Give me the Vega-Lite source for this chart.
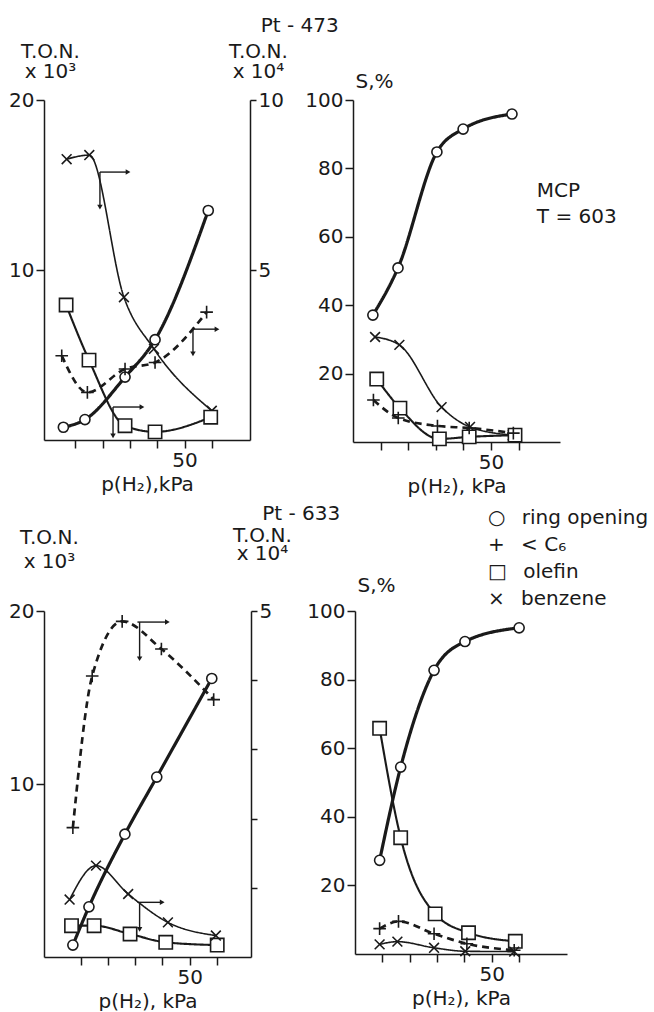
{
  "$schema": "https://vega.github.io/schema/vega-lite/v6.json",
  "background": "white",
  "padding": {"left": 8, "top": 16, "right": 0, "bottom": 0},
  "bounds": "flush",
  "spacing": 511,
  "resolve": {"legend": {"shape": "independent"}},
  "datasets": {
    "pts": [
      {"panel":"TL","axis":"L","series":"ring opening","p":5.6,"v":0.75},
      {"panel":"TL","axis":"L","series":"ring opening","p":13.5,"v":1.2},
      {"panel":"TL","axis":"L","series":"ring opening","p":28.2,"v":3.7},
      {"panel":"TL","axis":"L","series":"ring opening","p":39.2,"v":5.9},
      {"panel":"TL","axis":"L","series":"ring opening","p":58.7,"v":13.5},
      {"panel":"TL","axis":"R","series":"benzene","p":6.8,"v":8.26},
      {"panel":"TL","axis":"R","series":"benzene","p":15.1,"v":8.38},
      {"panel":"TL","axis":"R","series":"benzene","p":27.8,"v":4.2},
      {"panel":"TL","axis":"R","series":"benzene","p":38.8,"v":2.68},
      {"panel":"TL","axis":"R","series":"benzene","p":60.0,"v":0.86},
      {"panel":"TL","axis":"R","series":"olefin","p":6.6,"v":3.97},
      {"panel":"TL","axis":"R","series":"olefin","p":15.0,"v":2.35},
      {"panel":"TL","axis":"R","series":"olefin","p":28.2,"v":0.42},
      {"panel":"TL","axis":"R","series":"olefin","p":39.2,"v":0.24},
      {"panel":"TL","axis":"R","series":"olefin","p":59.6,"v":0.67},
      {"panel":"TL","axis":"R","series":"< C₆","p":5.0,"v":2.48},
      {"panel":"TL","axis":"R","series":"< C₆","p":14.4,"v":1.4},
      {"panel":"TL","axis":"R","series":"< C₆","p":28.2,"v":2.09},
      {"panel":"TL","axis":"R","series":"< C₆","p":39.2,"v":2.28},
      {"panel":"TL","axis":"R","series":"< C₆","p":58.1,"v":3.76},

      {"panel":"TR","axis":"L","series":"ring opening","p":7.2,"v":37.1},
      {"panel":"TR","axis":"L","series":"ring opening","p":16.3,"v":50.9},
      {"panel":"TR","axis":"L","series":"ring opening","p":30.4,"v":84.8},
      {"panel":"TR","axis":"L","series":"ring opening","p":39.9,"v":91.5},
      {"panel":"TR","axis":"L","series":"ring opening","p":57.6,"v":95.9},
      {"panel":"TR","axis":"L","series":"benzene","p":8.0,"v":30.7},
      {"panel":"TR","axis":"L","series":"benzene","p":16.8,"v":28.4},
      {"panel":"TR","axis":"L","series":"benzene","p":32.1,"v":10.2},
      {"panel":"TR","axis":"L","series":"benzene","p":42.4,"v":4.4},
      {"panel":"TR","axis":"L","series":"benzene","p":57.9,"v":2.0},
      {"panel":"TR","axis":"L","series":"olefin","p":8.6,"v":18.4},
      {"panel":"TR","axis":"L","series":"olefin","p":17.0,"v":9.9},
      {"panel":"TR","axis":"L","series":"olefin","p":31.3,"v":0.9},
      {"panel":"TR","axis":"L","series":"olefin","p":42.1,"v":1.5},
      {"panel":"TR","axis":"L","series":"olefin","p":58.7,"v":2.0},
      {"panel":"TR","axis":"L","series":"< C₆","p":7.4,"v":12.3},
      {"panel":"TR","axis":"L","series":"< C₆","p":16.4,"v":7.0},
      {"panel":"TR","axis":"L","series":"< C₆","p":30.6,"v":4.7},
      {"panel":"TR","axis":"L","series":"< C₆","p":42.1,"v":4.1},
      {"panel":"TR","axis":"L","series":"< C₆","p":58.1,"v":2.6},

      {"panel":"BL","axis":"L","series":"ring opening","p":7.1,"v":0.69},
      {"panel":"BL","axis":"L","series":"ring opening","p":13.0,"v":2.9},
      {"panel":"BL","axis":"L","series":"ring opening","p":26.2,"v":7.1},
      {"panel":"BL","axis":"L","series":"ring opening","p":37.9,"v":10.4},
      {"panel":"BL","axis":"L","series":"ring opening","p":58.1,"v":16.1},
      {"panel":"BL","axis":"L","series":"olefin","p":6.6,"v":1.81},
      {"panel":"BL","axis":"L","series":"olefin","p":14.9,"v":1.81},
      {"panel":"BL","axis":"L","series":"olefin","p":28.1,"v":1.33},
      {"panel":"BL","axis":"L","series":"olefin","p":41.2,"v":0.85},
      {"panel":"BL","axis":"L","series":"olefin","p":60.1,"v":0.69},
      {"panel":"BL","axis":"R","series":"< C₆","p":7.1,"v":1.87},
      {"panel":"BL","axis":"R","series":"< C₆","p":14.2,"v":4.06},
      {"panel":"BL","axis":"R","series":"< C₆","p":25.2,"v":4.85},
      {"panel":"BL","axis":"R","series":"< C₆","p":39.6,"v":4.45},
      {"panel":"BL","axis":"R","series":"< C₆","p":58.8,"v":3.72},
      {"panel":"BL","axis":"R","series":"benzene","p":5.9,"v":0.83},
      {"panel":"BL","axis":"R","series":"benzene","p":15.6,"v":1.32},
      {"panel":"BL","axis":"R","series":"benzene","p":27.4,"v":0.91},
      {"panel":"BL","axis":"R","series":"benzene","p":42.0,"v":0.5},
      {"panel":"BL","axis":"R","series":"benzene","p":59.6,"v":0.31},

      {"panel":"BR","axis":"L","series":"ring opening","p":9.0,"v":27.3},
      {"panel":"BR","axis":"L","series":"ring opening","p":16.7,"v":54.5},
      {"panel":"BR","axis":"L","series":"ring opening","p":28.9,"v":82.7},
      {"panel":"BR","axis":"L","series":"ring opening","p":40.2,"v":91.1},
      {"panel":"BR","axis":"L","series":"ring opening","p":60.0,"v":95.1},
      {"panel":"BR","axis":"L","series":"olefin","p":9.0,"v":65.8},
      {"panel":"BR","axis":"L","series":"olefin","p":16.7,"v":33.9},
      {"panel":"BR","axis":"L","series":"olefin","p":29.3,"v":11.7},
      {"panel":"BR","axis":"L","series":"olefin","p":41.5,"v":6.2},
      {"panel":"BR","axis":"L","series":"olefin","p":58.6,"v":3.7},
      {"panel":"BR","axis":"L","series":"< C₆","p":9.0,"v":7.4},
      {"panel":"BR","axis":"L","series":"< C₆","p":15.9,"v":9.5},
      {"panel":"BR","axis":"L","series":"< C₆","p":28.9,"v":5.9},
      {"panel":"BR","axis":"L","series":"< C₆","p":40.9,"v":3.0},
      {"panel":"BR","axis":"L","series":"< C₆","p":58.2,"v":1.1},
      {"panel":"BR","axis":"L","series":"benzene","p":9.0,"v":2.8},
      {"panel":"BR","axis":"L","series":"benzene","p":15.5,"v":3.6},
      {"panel":"BR","axis":"L","series":"benzene","p":28.9,"v":1.8},
      {"panel":"BR","axis":"L","series":"benzene","p":40.3,"v":0.8},
      {"panel":"BR","axis":"L","series":"benzene","p":58.2,"v":0.7}
    ],
    "arrows": [
      {"panel":"TL","p":19.0,"v":7.88,"p2":29.3,"v2":7.88},
      {"panel":"TL","p":19.0,"v":7.88,"p2":19.0,"v2":6.85},
      {"panel":"TL","p":23.8,"v":0.97,"p2":34.4,"v2":0.97},
      {"panel":"TL","p":23.8,"v":0.97,"p2":23.8,"v2":0.12},
      {"panel":"TL","p":53.1,"v":3.26,"p2":61.9,"v2":3.26},
      {"panel":"TL","p":53.1,"v":3.3,"p2":53.1,"v2":2.53},
      {"panel":"BL","p":30.8,"v":4.84,"p2":41.8,"v2":4.84},
      {"panel":"BL","p":31.6,"v":4.84,"p2":31.6,"v2":4.31},
      {"panel":"BL","p":30.8,"v":0.79,"p2":39.9,"v2":0.79},
      {"panel":"BL","p":31.6,"v":0.79,"p2":31.6,"v2":0.4}
    ],
    "heads": [
      {"panel":"TL","dir":"right","p":29.3,"v":7.88},
      {"panel":"TL","dir":"down","p":19.0,"v":6.85},
      {"panel":"TL","dir":"right","p":34.4,"v":0.97},
      {"panel":"TL","dir":"down","p":23.8,"v":0.12},
      {"panel":"TL","dir":"right","p":61.9,"v":3.26},
      {"panel":"TL","dir":"down","p":53.1,"v":2.53},
      {"panel":"BL","dir":"right","p":41.8,"v":4.84},
      {"panel":"BL","dir":"down","p":31.6,"v":4.31},
      {"panel":"BL","dir":"right","p":39.9,"v":0.79},
      {"panel":"BL","dir":"down","p":31.6,"v":0.4}
    ]
  },
  "vconcat": [
    {
      "title": {"text": "Pt - 473", "anchor": "middle", "baseline": "alphabetic", "offset": -11, "dx": -13},
      "bounds": "flush",
      "spacing": 103,
      "hconcat": [
        {
          "width": 206, "height": 340,
          "encoding": {"x": {"field":"p","type":"quantitative","scale":{"domain":[-1.5,74],"nice":false,"zero":false},
            "axis":{"values":[10,20,30,40,50,60],"labelExpr":"datum.value == 50 ? '50' : ''","title":"p(H₂),kPa","tickSize":8,"labelPadding":2,"titlePadding":4}}},
          "layer": [
            {
              "encoding": {"y": {"field":"v","type":"quantitative","scale":{"domain":[0,20],"nice":false},
                "axis":{"orient":"left","values":[10,20],"title":["T.O.N.","x 10³"],"titleAngle":0,"titleAlign":"center","titleBaseline":"alphabetic","titleX":6,"titleY":-43,"titleLineHeight":20,"tickSize":8,"labelPadding":2}}},
              "layer": [
                {"data":{"name":"pts"},"transform":[{"filter":"datum.panel=='TL' && datum.axis=='L'"}],
                 "mark":{"type":"line","interpolate":"monotone","color":"#1a1a1a"},
                 "encoding":{"detail":{"field":"series"},
                   "strokeDash":{"field":"series","type":"nominal","scale":{"domain":["ring opening","< C₆","olefin","benzene"],"range":[[1,0],[7,5],[1,0],[1,0]]},"legend":null},
                   "strokeWidth":{"field":"series","type":"nominal","scale":{"domain":["ring opening","< C₆","olefin","benzene"],"range":[3.2,1.6,1.6,1.6]},"legend":null}}},
                {"data":{"name":"pts"},"transform":[{"filter":"datum.panel=='TL' && datum.axis=='L'"}],
                 "mark":{"type":"point","filled":false,"color":"#1a1a1a","fill":"white","strokeWidth":1.6,"opacity":1,"size":196},
                 "encoding":{
                   "shape":{"field":"series","type":"nominal","scale":{"domain":["ring opening","< C₆","olefin","benzene"],"range":["M0.72,0A0.72,0.72,0,1,1,-0.72,0A0.72,0.72,0,1,1,0.72,0Z","M-0.9,0L0.9,0M0,-0.9L0,0.9","M-0.95,-0.95L0.95,-0.95L0.95,0.95L-0.95,0.95Z","M-0.7,-0.7L0.7,0.7M0.7,-0.7L-0.7,0.7"]},"legend":null}}}
              ]
            },
            {
              "encoding": {"y": {"field":"v","type":"quantitative","scale":{"domain":[0,10],"nice":false},
                "axis":{"orient":"right","values":[5,10],"title":["T.O.N.","x 10⁴"],"titleAngle":0,"titleAlign":"center","titleBaseline":"alphabetic","titleX":8,"titleY":-43,"titleLineHeight":20,"tickSize":6,"labelPadding":2}}},
              "layer": [
                {"data":{"name":"pts"},"transform":[{"filter":"datum.panel=='TL' && datum.axis=='R'"}],
                 "mark":{"type":"line","interpolate":"monotone","color":"#1a1a1a"},
                 "encoding":{"detail":{"field":"series"},
                   "strokeDash":{"field":"series","type":"nominal","scale":{"domain":["ring opening","< C₆","olefin","benzene"],"range":[[1,0],[7,5],[1,0],[1,0]]},"legend":null},
                   "strokeWidth":{"field":"series","type":"nominal","scale":{"domain":["ring opening","< C₆","olefin","benzene"],"range":[3.2,1.6,1.6,1.6]},"legend":null}}},
                {"data":{"name":"pts"},"transform":[{"filter":"datum.panel=='TL' && datum.axis=='R'"}],
                 "mark":{"type":"point","filled":false,"color":"#1a1a1a","fill":"white","strokeWidth":1.6,"opacity":1,"size":196},
                 "encoding":{
                   "shape":{"field":"series","type":"nominal","scale":{"domain":["ring opening","< C₆","olefin","benzene"],"range":["M0.72,0A0.72,0.72,0,1,1,-0.72,0A0.72,0.72,0,1,1,0.72,0Z","M-0.9,0L0.9,0M0,-0.9L0,0.9","M-0.95,-0.95L0.95,-0.95L0.95,0.95L-0.95,0.95Z","M-0.7,-0.7L0.7,0.7M0.7,-0.7L-0.7,0.7"]},"legend":null}}},
                {"data":{"name":"arrows"},"transform":[{"filter":"datum.panel=='TL'"}],
                 "mark":{"type":"rule","color":"#1a1a1a","strokeWidth":1.4},
                 "encoding":{"x2":{"field":"p2"},"y2":{"field":"v2"}}},
                {"data":{"name":"heads"},"transform":[{"filter":"datum.panel=='TL' && datum.dir=='right'"}],
                 "mark":{"type":"point","shape":"triangle-right","filled":true,"color":"#1a1a1a","size":30,"opacity":1},
                 "encoding":{}},
                {"data":{"name":"heads"},"transform":[{"filter":"datum.panel=='TL' && datum.dir=='down'"}],
                 "mark":{"type":"point","shape":"triangle-down","filled":true,"color":"#1a1a1a","size":30,"opacity":1},
                 "encoding":{}}
              ]
            }
          ],
          "resolve": {"scale": {"y": "independent"}}
        },
        {
          "width": 207, "height": 342,
          "title": {"text": ["MCP", "T = 603"], "orient": "right", "anchor": "start", "frame": "group", "angle": 0, "align": "left", "baseline": "alphabetic", "offset": -103, "dy": 97, "lineHeight": 26},
          "encoding": {
            "x": {"field":"p","type":"quantitative","scale":{"domain":[0,75],"nice":false,"zero":false},
              "axis":{"values":[10,20,30,40,50,60],"labelExpr":"datum.value == 50 ? '50' : ''","title":"p(H₂), kPa","tickSize":8,"labelPadding":2,"titlePadding":4}},
            "y": {"field":"v","type":"quantitative","scale":{"domain":[0,100],"nice":false},
              "axis":{"orient":"left","values":[20,40,60,80,100],"title":"S,%","titleAngle":0,"titleAlign":"left","titleBaseline":"alphabetic","titleX":2,"titleY":-13,"tickSize":8,"labelPadding":2}}
          },
          "layer": [
            {"data":{"name":"pts"},"transform":[{"filter":"datum.panel=='TR'"}],
             "mark":{"type":"line","interpolate":"monotone","color":"#1a1a1a"},
             "encoding":{"detail":{"field":"series"},
               "strokeDash":{"field":"series","type":"nominal","scale":{"domain":["ring opening","< C₆","olefin","benzene"],"range":[[1,0],[7,5],[1,0],[1,0]]},"legend":null},
               "strokeWidth":{"field":"series","type":"nominal","scale":{"domain":["ring opening","< C₆","olefin","benzene"],"range":[3.2,1.6,1.6,1.6]},"legend":null}}},
            {"data":{"name":"pts"},"transform":[{"filter":"datum.panel=='TR'"}],
             "mark":{"type":"point","filled":false,"color":"#1a1a1a","fill":"white","strokeWidth":1.6,"opacity":1,"size":196},
             "encoding":{
               "shape":{"field":"series","type":"nominal","scale":{"domain":["ring opening","< C₆","olefin","benzene"],"range":["M0.72,0A0.72,0.72,0,1,1,-0.72,0A0.72,0.72,0,1,1,0.72,0Z","M-0.9,0L0.9,0M0,-0.9L0,0.9","M-0.95,-0.95L0.95,-0.95L0.95,0.95L-0.95,0.95Z","M-0.7,-0.7L0.7,0.7M0.7,-0.7L-0.7,0.7"]},"legend":null}}}
          ]
        }
      ]
    },
    {
      "title": {"text": "Pt - 633", "anchor": "middle", "baseline": "alphabetic", "offset": -32, "dx": -38},
      "bounds": "flush",
      "spacing": 104,
      "resolve": {"legend": {"shape": "independent"}},
      "hconcat": [
        {
          "width": 207, "height": 346,
          "encoding": {"x": {"field":"p","type":"quantitative","scale":{"domain":[-3.5,72.5],"nice":false,"zero":false},
            "axis":{"values":[10,20,30,40,50,60],"labelExpr":"datum.value == 50 ? '50' : ''","title":"p(H₂), kPa","tickSize":8,"labelPadding":2,"titlePadding":4}}},
          "layer": [
            {
              "encoding": {"y": {"field":"v","type":"quantitative","scale":{"domain":[0,20],"nice":false},
                "axis":{"orient":"left","values":[10,20],"title":["T.O.N.","x 10³"],"titleAngle":0,"titleAlign":"center","titleBaseline":"alphabetic","titleX":5,"titleY":-68,"titleLineHeight":24,"tickSize":8,"labelPadding":2}}},
              "layer": [
                {"data":{"name":"pts"},"transform":[{"filter":"datum.panel=='BL' && datum.axis=='L'"}],
                 "mark":{"type":"line","interpolate":"monotone","color":"#1a1a1a"},
                 "encoding":{"detail":{"field":"series"},
                   "strokeDash":{"field":"series","type":"nominal","scale":{"domain":["ring opening","< C₆","olefin","benzene"],"range":[[1,0],[7,5],[1,0],[1,0]]},"legend":null},
                   "strokeWidth":{"field":"series","type":"nominal","scale":{"domain":["ring opening","< C₆","olefin","benzene"],"range":[3.2,1.6,1.6,1.6]},"legend":null}}},
                {"data":{"name":"pts"},"transform":[{"filter":"datum.panel=='BL' && datum.axis=='L'"}],
                 "mark":{"type":"point","filled":false,"color":"#1a1a1a","fill":"white","strokeWidth":1.6,"opacity":1,"size":196},
                 "encoding":{
                   "shape":{"field":"series","type":"nominal","scale":{"domain":["ring opening","< C₆","olefin","benzene"],"range":["M0.72,0A0.72,0.72,0,1,1,-0.72,0A0.72,0.72,0,1,1,0.72,0Z","M-0.9,0L0.9,0M0,-0.9L0,0.9","M-0.95,-0.95L0.95,-0.95L0.95,0.95L-0.95,0.95Z","M-0.7,-0.7L0.7,0.7M0.7,-0.7L-0.7,0.7"]},"legend":null}}}
              ]
            },
            {
              "encoding": {"y": {"field":"v","type":"quantitative","scale":{"domain":[0,5],"nice":false},
                "axis":{"orient":"right","values":[1,2,3,4,5],"labelExpr":"datum.value == 5 ? '5' : ''","title":["T.O.N.","x 10⁴"],"titleAngle":0,"titleAlign":"center","titleBaseline":"alphabetic","titleX":11,"titleY":-70,"titleLineHeight":18,"tickSize":6,"labelPadding":2}}},
              "layer": [
                {"data":{"name":"pts"},"transform":[{"filter":"datum.panel=='BL' && datum.axis=='R'"}],
                 "mark":{"type":"line","interpolate":"monotone","color":"#1a1a1a"},
                 "encoding":{"detail":{"field":"series"},
                   "strokeDash":{"field":"series","type":"nominal","scale":{"domain":["ring opening","< C₆","olefin","benzene"],"range":[[1,0],[7,5],[1,0],[1,0]]},"legend":null},
                   "strokeWidth":{"field":"series","type":"nominal","scale":{"domain":["ring opening","< C₆","olefin","benzene"],"range":[3.2,1.6,1.6,1.6]},"legend":null}}},
                {"data":{"name":"pts"},"transform":[{"filter":"datum.panel=='BL' && datum.axis=='R'"}],
                 "mark":{"type":"point","filled":false,"color":"#1a1a1a","fill":"white","strokeWidth":1.6,"opacity":1,"size":196},
                 "encoding":{
                   "shape":{"field":"series","type":"nominal","scale":{"domain":["ring opening","< C₆","olefin","benzene"],"range":["M0.72,0A0.72,0.72,0,1,1,-0.72,0A0.72,0.72,0,1,1,0.72,0Z","M-0.9,0L0.9,0M0,-0.9L0,0.9","M-0.95,-0.95L0.95,-0.95L0.95,0.95L-0.95,0.95Z","M-0.7,-0.7L0.7,0.7M0.7,-0.7L-0.7,0.7"]},"legend":null}}},
                {"data":{"name":"arrows"},"transform":[{"filter":"datum.panel=='BL'"}],
                 "mark":{"type":"rule","color":"#1a1a1a","strokeWidth":1.4},
                 "encoding":{"x2":{"field":"p2"},"y2":{"field":"v2"}}},
                {"data":{"name":"heads"},"transform":[{"filter":"datum.panel=='BL' && datum.dir=='right'"}],
                 "mark":{"type":"point","shape":"triangle-right","filled":true,"color":"#1a1a1a","size":30,"opacity":1},
                 "encoding":{}},
                {"data":{"name":"heads"},"transform":[{"filter":"datum.panel=='BL' && datum.dir=='down'"}],
                 "mark":{"type":"point","shape":"triangle-down","filled":true,"color":"#1a1a1a","size":30,"opacity":1},
                 "encoding":{}}
              ]
            }
          ],
          "resolve": {"scale": {"y": "independent"}}
        },
        {
          "width": 212, "height": 343,
          "encoding": {
            "x": {"field":"p","type":"quantitative","scale":{"domain":[0,77.5],"nice":false,"zero":false},
              "axis":{"values":[10,20,30,40,50,60],"labelExpr":"datum.value == 50 ? '50' : ''","title":"p(H₂), kPa","tickSize":8,"labelPadding":2,"titlePadding":4}},
            "y": {"field":"v","type":"quantitative","scale":{"domain":[0,100],"nice":false},
              "axis":{"orient":"left","values":[20,40,60,80,100],"title":"S,%","titleAngle":0,"titleAlign":"left","titleBaseline":"alphabetic","titleX":2,"titleY":-20,"tickSize":8,"labelPadding":2}}
          },
          "layer": [
            {"data":{"name":"pts"},"transform":[{"filter":"datum.panel=='BR'"}],
             "mark":{"type":"line","interpolate":"monotone","color":"#1a1a1a"},
             "encoding":{"detail":{"field":"series"},
               "strokeDash":{"field":"series","type":"nominal","scale":{"domain":["ring opening","< C₆","olefin","benzene"],"range":[[1,0],[7,5],[1,0],[1,0]]},"legend":null},
               "strokeWidth":{"field":"series","type":"nominal","scale":{"domain":["ring opening","< C₆","olefin","benzene"],"range":[3.2,1.6,1.6,1.6]},"legend":null}}},
            {"data":{"name":"pts"},"transform":[{"filter":"datum.panel=='BR'"}],
             "mark":{"type":"point","filled":false,"color":"#1a1a1a","fill":"white","strokeWidth":1.6,"opacity":1,"size":196},
             "encoding":{
               "shape":{"field":"series","type":"nominal","scale":{"domain":["ring opening","< C₆","olefin","benzene"],"range":["M0.72,0A0.72,0.72,0,1,1,-0.72,0A0.72,0.72,0,1,1,0.72,0Z","M-0.9,0L0.9,0M0,-0.9L0,0.9","M-0.95,-0.95L0.95,-0.95L0.95,0.95L-0.95,0.95Z","M-0.7,-0.7L0.7,0.7M0.7,-0.7L-0.7,0.7"]},
                 "legend":{"orient":"top-right","offset":-103,"title":"xx","titleOrient":"right","titleOpacity":0,"titleFontSize":17,"titlePadding":0,"labelOffset":4,"labelLimit":260,
                   "labelExpr":"(datum.label == 'ring opening' ? '○' : datum.label == 'olefin' ? '□' : datum.label == 'benzene' ? '×' : '+') + '\u2002 ' + datum.label",
                   "symbolOpacity":0}}}}
          ]
        }
      ]
    }
  ],
  "config": {
    "font": "DejaVu Sans",
    "view": {"stroke": null},
    "axis": {"grid": false, "domainColor": "#1a1a1a", "domainWidth": 1.5, "tickColor": "#1a1a1a", "tickWidth": 1.5,
      "labelFont": "DejaVu Sans", "labelFontSize": 20, "labelColor": "#1a1a1a",
      "titleFont": "DejaVu Sans", "titleFontSize": 20, "titleFontWeight": "normal", "titleColor": "#1a1a1a"},
    "legend": {"labelFont": "DejaVu Sans", "labelFontSize": 20, "labelColor": "#1a1a1a", "symbolSize": 100,
      "symbolStrokeWidth": 1.6, "symbolStrokeColor": "#1a1a1a", "symbolFillColor": "white", "rowPadding": 7},
    "title": {"font": "DejaVu Sans", "fontSize": 20, "fontWeight": "normal", "color": "#1a1a1a"}
  }
}
